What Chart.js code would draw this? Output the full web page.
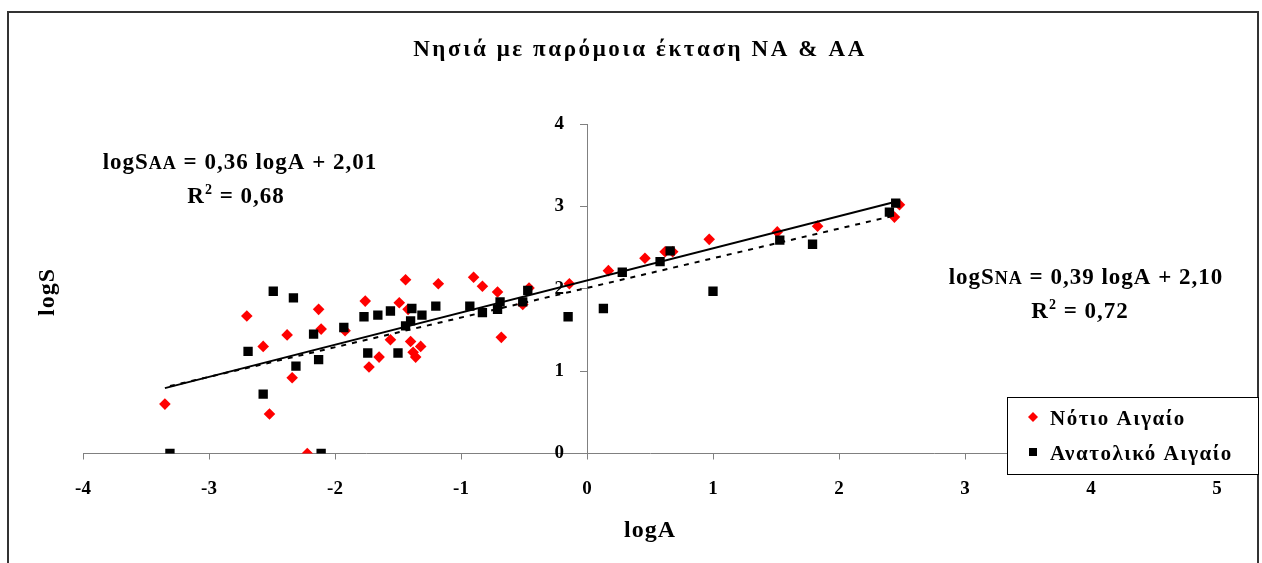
<!DOCTYPE html>
<html>
<head>
<meta charset="utf-8">
<script src="https://cdn.jsdelivr.net/npm/chart.js@4.4.0/dist/chart.umd.min.js"></script>
<style>
  html, body { margin: 0; padding: 0; background: #fff; }
  #wrap { width: 1262px; height: 563px; }
</style>
</head>
<body>
<div id="wrap"><canvas id="chart" width="1262" height="563"></canvas></div>
<script>
// Νότιο Αιγαίο (logA, logS)
const southLogA = [-3.35, -2.70, -2.57, -2.52, -2.38, -2.34, -2.22, -2.13, -2.11, -1.92,
  -1.76, -1.73, -1.65, -1.56, -1.49, -1.44, -1.42, -1.40, -1.38, -1.36,
  -1.32, -1.18, -0.90, -0.83, -0.71, -0.68, -0.51, -0.46, -0.14, 0.17,
  0.46, 0.62, 0.68, 0.97, 1.51, 1.83, 2.44, 2.48];
const southLogS = [0.60, 1.67, 1.30, 0.48, 1.44, 0.92, 0, 1.75, 1.51, 1.49,
  1.85, 1.05, 1.17, 1.38, 1.83, 2.11, 1.75, 1.36, 1.23, 1.17,
  1.30, 2.06, 2.14, 2.03, 1.96, 1.41, 1.81, 2.01, 2.06, 2.22,
  2.37, 2.45, 2.45, 2.60, 2.69, 2.76, 2.87, 3.02];

// Ανατολικό Αιγαίο (logA, logS)
const eastLogA = [-3.31, -2.69, -2.57, -2.49, -2.33, -2.31, -2.17, -2.13, -2.11, -1.93,
  -1.77, -1.74, -1.66, -1.56, -1.50, -1.44, -1.40, -1.39, -1.31, -1.20,
  -0.93, -0.83, -0.71, -0.69, -0.51, -0.47, -0.15, 0.13, 0.28, 0.58,
  0.66, 1.00, 1.53, 1.79, 2.40, 2.45];
const eastLogS = [0, 1.24, 0.72, 1.97, 1.89, 1.06, 1.45, 1.14, 0, 1.53,
  1.66, 1.22, 1.68, 1.73, 1.22, 1.55, 1.61, 1.76, 1.68, 1.79,
  1.79, 1.71, 1.75, 1.84, 1.84, 1.98, 1.66, 1.76, 2.20, 2.33,
  2.46, 1.97, 2.59, 2.54, 2.93, 3.04];

// trendline coefficients as printed on the chart: [slope, intercept]
const southTrend = [0.39, 2.10];
const eastTrend = [0.36, 2.01];

const xTicks = [-4, -3, -2, -1, 0, 1, 2, 3, 4, 5];
const yTicks = [0, 1, 2, 3, 4];

const SERIF = '"Liberation Serif", "Times New Roman", serif';

const toPoints = (xs, ys) => xs.map((x, i) => ({ x: x, y: ys[i] }));
const trendPoints = (xs, coef) => {
  const lo = Math.min(...xs);
  const hi = Math.max(...xs);
  return [lo, hi].map(x => ({ x: x, y: coef[0] * x + coef[1] }));
};

// draw a line of text made of parts [text, size, raise], centred on cx
function richText(ctx, parts, cx, y, spacing) {
  ctx.save();
  ctx.letterSpacing = spacing + 'px';
  ctx.fillStyle = '#000';
  ctx.textAlign = 'left';
  ctx.textBaseline = 'alphabetic';
  let total = 0;
  const widths = parts.map(p => {
    ctx.font = 'bold ' + p[1] + 'px ' + SERIF;
    const w = ctx.measureText(p[0]).width;
    total += w;
    return w;
  });
  let x = cx - total / 2;
  parts.forEach((p, i) => {
    ctx.font = 'bold ' + p[1] + 'px ' + SERIF;
    ctx.fillText(p[0], x, y - (p[2] || 0));
    x += widths[i];
  });
  ctx.restore();
}

const decorations = {
  id: 'decorations',
  afterDraw(chart) {
    const ctx = chart.ctx;
    const xs = chart.scales.x;
    const ys = chart.scales.y;

    // y tick labels, set off to the left of the axis that crosses at logA = 0
    ctx.save();
    ctx.font = 'bold 19px ' + SERIF;
    ctx.fillStyle = '#000';
    ctx.textAlign = 'right';
    ctx.textBaseline = 'middle';
    const axisX = xs.getPixelForValue(0);
    yTicks.forEach(v => {
      ctx.fillText(String(v), axisX - 23, ys.getPixelForValue(v));
    });
    ctx.restore();

    // outer frame
    ctx.save();
    ctx.strokeStyle = '#333';
    ctx.lineWidth = 2;
    ctx.beginPath();
    ctx.moveTo(8, 563);
    ctx.lineTo(8, 12);
    ctx.lineTo(1258, 12);
    ctx.lineTo(1258, 563);
    ctx.stroke();
    ctx.restore();

    // title
    richText(ctx, [['Νησιά με παρόμοια έκταση ΝΑ & ΑΑ', 23]], 640, 56, 2.6);

    // axis titles
    richText(ctx, [['logA', 24]], 650, 537, 1);
    ctx.save();
    ctx.translate(54, 292);
    ctx.rotate(-Math.PI / 2);
    richText(ctx, [['logS', 24]], 0, 0, 1);
    ctx.restore();

    // trendline equations
    richText(ctx, [['logS', 23], ['AA', 18], [' = 0,36 logA + 2,01', 23]], 240, 169, 1);
    richText(ctx, [['R', 23], ['2', 14, 9], [' = 0,68', 23]], 236, 203, 1);
    richText(ctx, [['logS', 23], ['NA', 18], [' = 0,39 logA + 2,10', 23]], 1086, 284, 1);
    richText(ctx, [['R', 23], ['2', 14, 9], [' = 0,72', 23]], 1080, 318, 1);

    // legend box
    ctx.save();
    ctx.fillStyle = '#fff';
    ctx.fillRect(1007, 397, 251, 77);
    ctx.strokeStyle = '#000';
    ctx.lineWidth = 1;
    ctx.strokeRect(1007.5, 397.5, 251, 77);
    ctx.fillStyle = '#ff0000';
    ctx.beginPath();
    ctx.moveTo(1033, 412);
    ctx.lineTo(1038, 417);
    ctx.lineTo(1033, 422);
    ctx.lineTo(1028, 417);
    ctx.closePath();
    ctx.fill();
    ctx.fillStyle = '#000';
    ctx.fillRect(1029, 448, 8, 8);
    ctx.font = 'bold 21px ' + SERIF;
    ctx.letterSpacing = '1.5px';
    ctx.textBaseline = 'alphabetic';
    ctx.textAlign = 'left';
    ctx.fillText('Νότιο Αιγαίο', 1050, 425);
    ctx.fillText('Ανατολικό Αιγαίο', 1050, 460);
    ctx.restore();
  }
};

const ctx = document.getElementById('chart').getContext('2d');
new Chart(ctx, {
  type: 'scatter',
  data: {
    datasets: [
      {
        label: 'trend NA',
        type: 'line',
        data: trendPoints(southLogA, southTrend),
        borderColor: '#000',
        borderWidth: 2,
        pointRadius: 0,
        fill: false,
        order: 0
      },
      {
        label: 'trend AA',
        type: 'line',
        data: trendPoints(eastLogA, eastTrend),
        borderColor: '#000',
        borderWidth: 2,
        borderDash: [5, 6],
        pointRadius: 0,
        fill: false,
        order: 0
      },
      {
        label: 'Ανατολικό Αιγαίο',
        data: toPoints(eastLogA, eastLogS),
        pointStyle: 'rect',
        pointRadius: 6.6,
        backgroundColor: '#000',
        borderColor: '#000',
        borderWidth: 0,
        order: 1
      },
      {
        label: 'Νότιο Αιγαίο',
        data: toPoints(southLogA, southLogS),
        pointStyle: 'rectRot',
        pointRadius: 5.8,
        backgroundColor: '#ff0000',
        borderColor: '#ff0000',
        borderWidth: 0,
        order: 2
      }
    ]
  },
  options: {
    responsive: false,
    animation: false,
    layout: {
      padding: { left: 83, right: 45, top: 124, bottom: 49.5 }
    },
    plugins: {
      legend: { display: false },
      title: { display: false },
      tooltip: { enabled: false }
    },
    scales: {
      x: {
        type: 'linear',
        position: 'bottom',
        min: -4,
        max: 5,
        afterBuildTicks: scale => { scale.ticks = xTicks.map(v => ({ value: v })); },
        afterFit: scale => { scale.height = 60; },
        ticks: {
          color: '#000',
          padding: 18,
          font: { family: SERIF, size: 19, weight: 'bold' }
        },
        grid: {
          drawOnChartArea: false,
          drawTicks: true,
          tickLength: 6,
          color: '#808080'
        },
        border: { display: true, color: '#808080', width: 1 }
      },
      y: {
        type: 'linear',
        position: { x: 0 },
        min: 0,
        max: 4,
        afterBuildTicks: scale => { scale.ticks = yTicks.map(v => ({ value: v })); },
        ticks: { display: false },
        grid: {
          drawOnChartArea: false,
          drawTicks: true,
          tickLength: 7,
          color: '#808080'
        },
        border: { display: true, color: '#808080', width: 1 }
      }
    }
  },
  plugins: [decorations]
});
</script>
</body>
</html>
